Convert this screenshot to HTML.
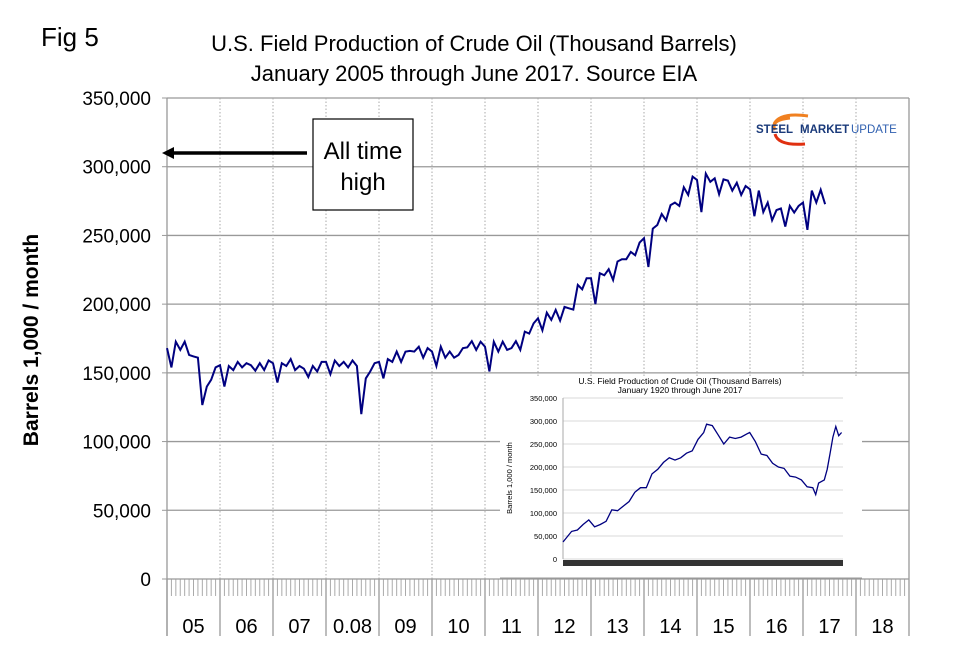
<!DOCTYPE html>
<html><head><meta charset="utf-8"><style>
body{margin:0;background:#fff;}
svg{display:block;font-family:"Liberation Sans",Arial,sans-serif;}
</style></head><body>
<svg id="chart" width="956" height="654" viewBox="0 0 956 654">
<text x="41" y="46" font-size="26">Fig 5</text>
<text x="474" y="51" font-size="22" text-anchor="middle">U.S. Field Production of Crude Oil (Thousand Barrels)</text>
<text x="474" y="81" font-size="22" text-anchor="middle">January 2005 through June 2017. Source EIA</text>
<text transform="translate(38,340) rotate(-90)" font-size="21" font-weight="bold" text-anchor="middle">Barrels 1,000 / month</text>
<g id="grid"></g>
<g id="axes"></g>
<polyline id="mainline" fill="none" stroke="#000080" stroke-width="2"/>
<g>
<line x1="307" y1="153" x2="172" y2="153" stroke="#000" stroke-width="3.5"/>
<polygon points="162,153 174,147 174,159" fill="#000"/>
<rect x="313" y="119" width="100" height="91" fill="#fff" stroke="#000" stroke-width="1.2"/>
<text x="363" y="159" font-size="24" text-anchor="middle">All time</text>
<text x="363" y="190" font-size="24" text-anchor="middle">high</text>
</g>
<g>
<path d="M790,118 Q770,120 775,130 M808,116 Q780,112 774,124" fill="none" stroke="#f08020" stroke-width="3"/>
<path d="M775,134 Q778,146 805,144" fill="none" stroke="#e03010" stroke-width="3"/>
<text x="756" y="133" font-size="11.5" font-weight="bold" fill="#1a3a7a">STEEL</text>
<text x="800" y="133" font-size="11.5" font-weight="bold" fill="#1a3a7a">MARKET</text>
<text x="851" y="133" font-size="11.5" fill="#3060b0">UPDATE</text>
</g>
<g id="inset">
<rect x="500" y="376" width="362" height="202" fill="#fff"/>
<text x="680" y="384" font-size="8.5" text-anchor="middle">U.S. Field Production of Crude Oil (Thousand Barrels)</text>
<text x="680" y="393" font-size="8.5" text-anchor="middle">January 1920 through June 2017</text>
<text transform="translate(512,478) rotate(-90)" font-size="7.5" text-anchor="middle">Barrels 1,000 / month</text>
<g id="insetgrid"></g>
<polyline id="insetline" fill="none" stroke="#000080" stroke-width="1.3"/>
<rect x="563" y="560" width="280" height="6" fill="#333"/>
<line x1="500" y1="578" x2="862" y2="578" stroke="#999" stroke-width="1"/>
</g>
</svg>
<script>
const yTicks=[0,50000,100000,150000,200000,250000,300000,350000];
const yTickLabels=["0","50,000","100,000","150,000","200,000","250,000","300,000","350,000"];
const years=["05","06","07","0.08","09","10","11","12","13","14","15","16","17","18"];
const production=[168,154,172.7,166.7,172.7,163,162,161,126.6,140,145,154,
155.6,140,155,152,158,154,157,155.6,151.6,157,152,159,
157,143,157,155,160,152,155,153,147,155,151,158,
158,149,159,155,158,154,159,155,120,146,151,157,
158,146,160,158,165.5,158,165.5,166,165.5,169,161,168,
165.5,155,169,161,165.5,161,163,168,168.6,173,166.7,172.7,
169,151,172.7,165.5,172.7,166.7,168,173,166.7,180,178.6,186,
189.7,181,193.8,188.5,195.8,188,198,197,196,214,210.8,218.8,
218.8,200,222.5,221,225.4,217.6,231,232.7,232.7,238,235.6,244.8,
248,227,255,257.6,265.6,261,272,273.9,271.5,285,279.5,292.8,
290.4,267,295,289,291.6,280,290.8,289.9,282.6,288.4,279.5,286,
283.6,264,282.6,267,273.9,261,268.4,269.6,256.4,271.5,266.6,271.5,
273.9,254,282.6,273.9,283.2,272.7];
const insetYears=[1920,1923,1925,1927,1929,1931,1933,1935,1937,1939,1941,1943,1945,1947,1949,1951,1953,1955,1957,1959,1961,1963,1965,1967,1969,1970,1972,1974,1976,1978,1980,1982,1984,1985,1987,1989,1991,1993,1995,1997,1999,2001,2003,2005,2007,2008,2009,2011,2012,2013,2014,2015,2016,2017];
const insetValues=[37,60,63,75,85,70,75,82,107,105,115,125,145,155,155,185,195,210,220,215,220,230,235,260,275,293,290,270,250,265,262,265,272,275,255,228,225,208,200,197,180,178,172,157,155,140,165,172,195,230,265,288,268,275];
const insetTicks=[0,50000,100000,150000,200000,250000,300000,350000];
const insetTickLabels=["0","50,000","100,000","150,000","200,000","250,000","300,000","350,000"];

const NS="http://www.w3.org/2000/svg";
const X0=167,X1=909,Y0=579,Y1=98;
const yScale=v=>Y0-(v/350000)*(Y0-Y1);
const yearW=(X1-X0)/years.length;
const xMonth=i=>X0+i*yearW/12;
function mk(tag,attrs,parent){const e=document.createElementNS(NS,tag);for(const k in attrs)e.setAttribute(k,attrs[k]);parent.appendChild(e);return e;}
const grid=document.getElementById('grid'),axes=document.getElementById('axes');
yTicks.forEach((v,i)=>{
  const y=yScale(v);
  if(v>0){const l=mk('line',{x1:X0,x2:X1,y1:y,y2:y,stroke:'#999','stroke-width':1.3},grid);
  
  }
  mk('line',{x1:X0-5,x2:X0,y1:y,y2:y,stroke:'#999'},axes);
  const t=mk('text',{x:151,y:y+7,'font-size':19,'text-anchor':'end'},axes);
  t.textContent=yTickLabels[i];
  
  
});
years.forEach((yr,i)=>{
  const x=X0+i*yearW;
  if(i>0){const g=mk('line',{x1:x,x2:x,y1:Y1,y2:Y0,stroke:'#aaa','stroke-dasharray':'1.5,2'},grid);
  
  }
  mk('line',{x1:x,x2:x,y1:Y0,y2:636,stroke:'#999','stroke-width':1.3},axes);
  for(let m=1;m<12;m++){const mx=x+m*yearW/12;mk('line',{x1:mx,x2:mx,y1:Y0,y2:596,stroke:'#aaa'},axes);}
  const t=mk('text',{x:x+yearW/2,y:633,'font-size':20,'text-anchor':'middle'},axes);
  t.textContent=yr;
  
  
});
mk('line',{x1:X1,x2:X1,y1:Y1,y2:636,stroke:'#999','stroke-width':1.3},axes);
mk('line',{x1:X0,x2:X0,y1:Y1,y2:636,stroke:'#999','stroke-width':1.3},axes);
mk('line',{x1:X0,x2:X1,y1:Y0,y2:Y0,stroke:'#999','stroke-width':1.3},axes);
document.getElementById('mainline').setAttribute('points',production.map((v,i)=>xMonth(i).toFixed(1)+','+yScale(v*1000).toFixed(1)).join(' '));

// inset
const IX0=563,IX1=843,IY0=559,IY1=398;
const iy=v=>IY0-(v/350000)*(IY0-IY1);
const ix=yr=>IX0+(yr-1920)/97.5*(IX1-IX0);
const ig=document.getElementById('insetgrid');
insetTicks.forEach((v,i)=>{
  const y=iy(v);
  mk('line',{x1:IX0,x2:IX1,y1:y,y2:y,stroke:'#ccc','stroke-width':0.8},ig);
  const t=mk('text',{x:IX0-6,y:y+3,'font-size':7.5,'text-anchor':'end'},ig);
  t.textContent=insetTickLabels[i];
  
  
});
mk('line',{x1:IX0,x2:IX0,y1:IY1,y2:IY0,stroke:'#aaa'},ig);
document.getElementById('insetline').setAttribute('points',insetYears.map((yr,i)=>ix(yr).toFixed(1)+','+iy(insetValues[i]*1000).toFixed(1)).join(' '));
</script>
</body></html>
